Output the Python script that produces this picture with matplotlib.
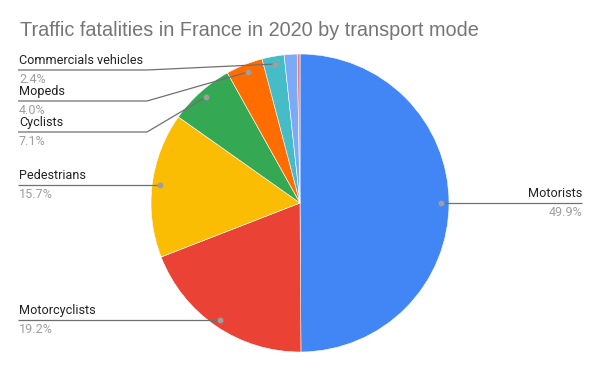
import matplotlib
matplotlib.use("Agg")
import matplotlib.pyplot as plt

labels = ["Motorists", "Motorcyclists", "Pedestrians", "Cyclists", "Mopeds",
          "Commercials vehicles", "Other 1", "Other 2"]
values = [49.9, 19.2, 15.7, 7.1, 4.0, 2.4, 1.4, 0.3]
colors = ["#4285F4", "#EA4335", "#FBBC04", "#34A853", "#FF6D01",
          "#46BDC6", "#7BAAF7", "#F07B72"]
pct_text = ["49.9%", "19.2%", "15.7%", "7.1%", "4.0%", "2.4%", None, None]

W, H = 600, 371
fig = plt.figure(figsize=(6, 3.71), dpi=100)
ax = fig.add_axes([0, 0, 1, 1])

cx, cy, r = 300, H - 203, 149
wedges, _ = ax.pie(values, colors=colors, startangle=90, counterclock=False,
                   center=(cx, cy), radius=r, frame=True,
                   wedgeprops=dict(edgecolor="white", linewidth=0.4))
ax.set_xlim(0, W)
ax.set_ylim(0, H)
ax.axis("off")

def py(y):
    return H - y

line_c = "#707070"
dot_c = "#9e9e9e"
lab_c = "#222222"
pct_c = "#9e9e9e"
lfont = "Roboto"

layout = {
    0: dict(marker=(441, 203), path=[(441, 203), (582, 203)], tx=582, ty=203, ha="right"),
    1: dict(marker=(220, 320), path=[(220, 320), (18, 320)], tx=19, ty=320, ha="left"),
    2: dict(marker=(160, 185), path=[(160, 185), (18, 185)], tx=19, ty=185, ha="left"),
    3: dict(marker=(206, 97), path=[(206, 97), (147, 132), (18, 132)], tx=19, ty=132, ha="left"),
    4: dict(marker=(248, 72), path=[(248, 72), (147, 101), (18, 101)], tx=19, ty=101, ha="left"),
    5: dict(marker=(275, 64), path=[(275, 64), (147, 70), (18, 70)], tx=19, ty=70, ha="left"),
}

for i, d in layout.items():
    xs = [p[0] for p in d["path"]]
    ys = [py(p[1]) for p in d["path"]]
    ax.plot(xs, ys, color=line_c, lw=0.9, solid_capstyle="butt", zorder=5)
    ax.plot([d["marker"][0]], [py(d["marker"][1])], "o", ms=3.2,
            color=dot_c, zorder=6)
    ax.text(d["tx"], py(d["ty"]) + 3, labels[i], ha=d["ha"], va="bottom",
            fontsize=9.1, color=lab_c, family=lfont)
    ax.text(d["tx"], py(d["ty"]) - 3, pct_text[i], ha=d["ha"], va="top",
            fontsize=9.1, color=pct_c, family=lfont)

fig.text(20 / W, 1 - 31 / H, "Traffic fatalities in France in 2020 by transport mode",
         ha="left", va="center", fontsize=14.3, color="#757575",
         family="Liberation Sans")

fig.savefig("out.png", dpi=100, facecolor="white")
